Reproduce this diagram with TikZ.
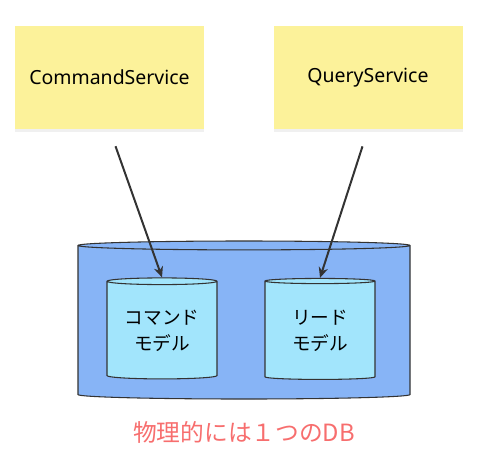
\documentclass[tikz,border=0pt]{standalone}
\usepackage{fontspec}
\setmainfont{Noto Sans}
\newfontfamily\jpfont{Noto Sans CJK JP}
\usetikzlibrary{shapes.geometric,arrows.meta,shadows}
\definecolor{noteyellow}{HTML}{FCF29A}
\definecolor{dbblue}{HTML}{87B4F6}
\definecolor{modelcyan}{HTML}{A2E5FC}
\definecolor{linegray}{HTML}{333333}
\definecolor{labelred}{HTML}{F76E6E}
\begin{document}
\begin{tikzpicture}[
    x=0.75pt, y=-0.75pt,
    note/.style={rectangle, fill=noteyellow, minimum width=189*0.75pt, minimum height=103*0.75pt,
        font=\fontsize{14.6}{17}\selectfont, drop shadow={shadow xshift=0pt, shadow yshift=-2pt, opacity=0.12}},
    dbouter/.style={cylinder, shape border rotate=90, draw=linegray, fill=dbblue, line width=0.8pt,
        minimum width=332*0.75pt, minimum height=158*0.75pt, aspect=1},
    dbinner/.style={cylinder, shape border rotate=90, draw=linegray, fill=modelcyan, line width=0.8pt,
        minimum width=110*0.75pt, minimum height=101*0.75pt, aspect=0.08, align=center,
        font=\jpfont\fontsize{14}{19.5}\selectfont},
    flow/.style={-{Stealth[length=8pt,width=7pt]}, draw=linegray, line width=1.5pt}
]
\useasboundingbox (0,0) rectangle (477,464);

\node[note] (cmd) at (109.5,77.5) {CommandService};
\node[note] (query) at (368,77.5) {QueryService};

\node[dbouter] (db) at (244,323) {};
\node[dbinner] (cmdmodel) at (162,331) {コマンド\\モデル};
\node[dbinner] (readmodel) at (320,331) {リード\\モデル};

\node[text=labelred, font=\jpfont\fontsize{17.8}{21}\selectfont] (dblabel) at (244,432) {物理的には１つのDB};

\draw[flow, shorten <=18*0.75pt] (cmd.south) -- (cmdmodel.north);
\draw[flow, shorten <=18*0.75pt] (query.south) -- (readmodel.north);

\end{tikzpicture}
\end{document}
